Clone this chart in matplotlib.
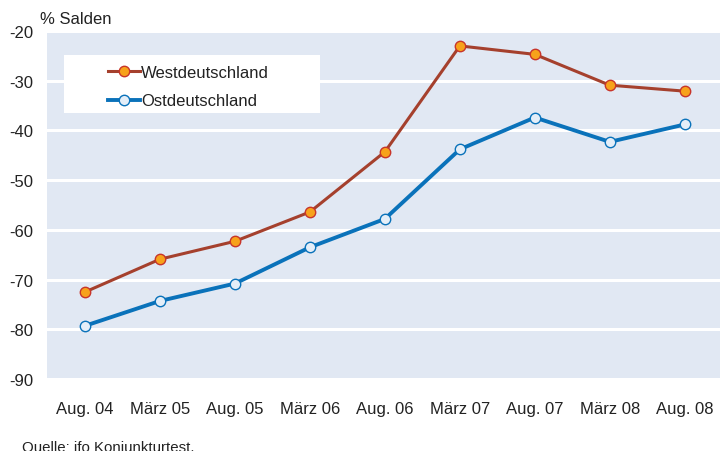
import matplotlib

matplotlib.use("Agg")
import matplotlib.pyplot as plt
from matplotlib.patches import Rectangle

plt.rcParams["font.family"] = ["Liberation Sans", "DejaVu Sans"]

labels = ["Aug. 04", "März 05", "Aug. 05", "März 06", "Aug. 06",
          "März 07", "Aug. 07", "März 08", "Aug. 08"]
west = [-72.5, -65.9, -62.3, -56.4, -44.3, -23.0, -24.7, -30.9, -32.1]
ost = [-79.3, -74.3, -70.8, -63.5, -57.8, -43.8, -37.4, -42.3, -38.8]
yticks = [-90, -80, -70, -60, -50, -40, -30, -20]

BG = "#e1e8f3"
INK = "#222222"
W, H = 721, 452

fig = plt.figure(figsize=(W / 100, H / 100), dpi=100)
ax = fig.add_axes([47 / W, 72 / H, 673 / W, 348 / H])
ax.set_facecolor(BG)

x = list(range(len(labels)))
ax.plot(x, west, color="#a5402d", lw=2.2, marker="o", ms=7.5,
        mfc="#f7a21b", mec="#c8352a", mew=1.0, label="Westdeutschland", zorder=3)
ax.plot(x, ost, color="#0a72ba", lw=2.8, marker="o", ms=7.5,
        mfc="#e4eef8", mec="#0a72ba", mew=1.0, label="Ostdeutschland", zorder=3)

ax.set_xlim(-0.507, 8.47)
ax.set_ylim(-90, -20)
ax.set_yticks(yticks)
ax.set_yticklabels([str(v) for v in yticks])
ax.set_xticks(x)
ax.set_xticklabels(labels)
ax.tick_params(length=0, labelsize=12, colors=INK)
ax.tick_params(axis="x", pad=16)
ax.tick_params(axis="y", pad=10)
for s in ax.spines.values():
    s.set_visible(False)
ax.grid(axis="y", color="white", lw=2.2)
ax.set_axisbelow(True)

# white legend panel
ax.add_patch(Rectangle((64 / W, 1 - 114 / H), 256 / W, 58 / H,
                       transform=fig.transFigure, facecolor="white",
                       edgecolor="none", zorder=4))
leg = ax.legend(loc="upper left", bbox_to_anchor=(108 / W, 1 - 66 / H),
                bbox_transform=fig.transFigure, frameon=False,
                fontsize=12, handlelength=1.9, handletextpad=0.1,
                borderpad=0, labelspacing=0.8, borderaxespad=0)
leg.set_zorder(5)
for t in leg.get_texts():
    t.set_color(INK)

fig.text(40 / W, 1 - 19 / H, "% Salden", ha="left", va="center",
         fontsize=12, color=INK)
fig.text(22 / W, 1 - 441 / H, "Quelle: ifo Konjunkturtest.", ha="left",
         va="top", fontsize=10.8, color=INK)

fig.savefig("out.png", dpi=100, facecolor="white")
